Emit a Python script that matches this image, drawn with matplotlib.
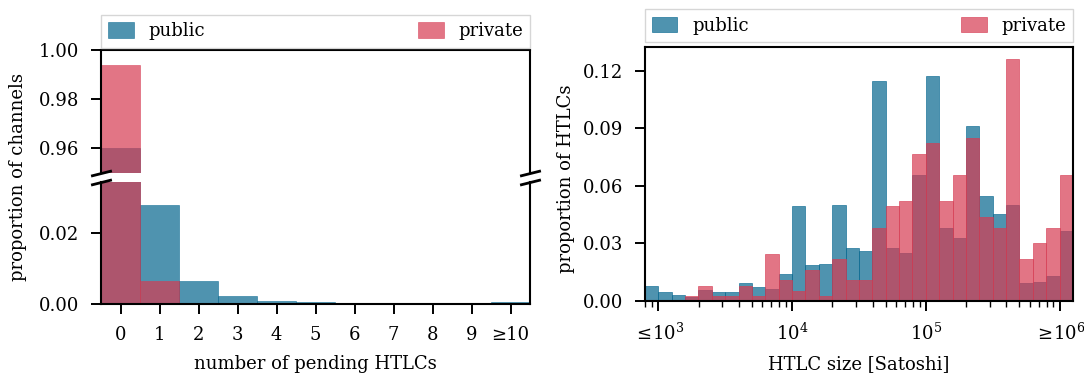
import numpy as np
import matplotlib

matplotlib.use("Agg")

import matplotlib.pyplot as plt

plt.rcParams.update({
    "font.family": "serif",
    "font.serif": ["DejaVu Serif"],
    "mathtext.fontset": "dejavuserif",
    "font.size": 13,
    "axes.linewidth": 1.5,
    "xtick.major.width": 1.4,
    "ytick.major.width": 1.4,
    "xtick.minor.width": 1.0,
    "xtick.major.size": 7.5,
    "ytick.major.size": 7.5,
    "xtick.minor.size": 4,
    "xtick.major.pad": 8,
    "xtick.minor.pad": 8,
    "ytick.major.pad": 8,
    "legend.edgecolor": "0.8",
    "legend.handlelength": 1.4,
    "legend.handleheight": 0.95,
})

PUBLIC = "#05668e"
PRIVATE = "#d63b52"
ALPHA = 0.7

# --- left panel: pending HTLCs per channel ---
pending_labels = ["0", "1", "2", "3", "4", "5", "6", "7", "8", "9", "≥10"]
pending_public = [0.960, 0.0279, 0.0066, 0.0023, 0.0008, 0.0005, 0.0003, 0.0001, 0.0001, 0.0001, 0.0005]
pending_private = [0.994, 0.0064, 0, 0, 0, 0, 0, 0, 0, 0, 0]

# --- right panel: HTLC size histogram, 0.1-decade bins from 10^2.9 to 10^6.1 ---
size_bin_start = 2.9
size_bin_step = 0.1
size_public = [0.0077, 0.0045, 0.0030, 0.0020, 0.0060, 0.0045, 0.0045, 0.0092,
               0.0071, 0.0065, 0.0139, 0.0494, 0.0186, 0.0191, 0.0500, 0.0275,
               0.0260, 0.1146, 0.0274, 0.0250, 0.0656, 0.1173, 0.0380, 0.0327,
               0.0911, 0.0546, 0.0452, 0.0500, 0.0092, 0.0098, 0.0130, 0.0364]
size_private = [0.0, 0.0, 0.0, 0.0025, 0.0077, 0.0024, 0.0024, 0.0077,
                0.0024, 0.0243, 0.0108, 0.0051, 0.0160, 0.0024, 0.0218, 0.0108,
                0.0108, 0.0380, 0.0493, 0.0520, 0.0765, 0.0823, 0.0520, 0.0656,
                0.0850, 0.0437, 0.0380, 0.1260, 0.0218, 0.0301, 0.0380, 0.0656]
size_ticks = [1e3, 1e4, 1e5, 1e6]
size_ticklabels = [r"$\leq\!10^{3}$", r"$10^{4}$", r"$10^{5}$", r"$\geq\!10^{6}$"]

fig = plt.figure(figsize=(10.84, 3.73), dpi=100)
ax_top = fig.add_axes([0.0932, 0.536, 0.3958, 0.330])
ax_bot = fig.add_axes([0.0932, 0.185, 0.3958, 0.327])
ax_r = fig.add_axes([0.595, 0.193, 0.3948, 0.681])

x = np.arange(len(pending_labels))
for ax in (ax_top, ax_bot):
    ax.bar(x, pending_public, width=1, color=PUBLIC, alpha=ALPHA, edgecolor=PUBLIC,
           linewidth=0.5, label="public")
    ax.bar(x, pending_private, width=1, color=PRIVATE, alpha=ALPHA, edgecolor=PRIVATE,
           linewidth=0.5, label="private")
    ax.set_xlim(-0.5, 10.5)

ax_top.set_ylim(0.95, 1.0)
ax_top.set_yticks([0.96, 0.98, 1.00])
ax_top.set_yticklabels(["0.96", "0.98", "1.00"])
ax_bot.set_ylim(0, 0.0345)
ax_bot.set_yticks([0.0, 0.02])
ax_bot.set_yticklabels(["0.00", "0.02"])

ax_top.spines["bottom"].set_visible(False)
ax_bot.spines["top"].set_visible(False)
ax_top.tick_params(axis="x", bottom=False, labelbottom=False)
ax_bot.set_xticks(x)
ax_bot.set_xticklabels(pending_labels)
ax_bot.set_xlabel("number of pending HTLCs", labelpad=8)

# break marks
d = 0.25
kw = dict(marker=[(-1, -d), (1, d)], markersize=15, linestyle="none", color="k",
          mec="k", mew=2, clip_on=False)
ax_top.plot([0, 1], [0, 0], transform=ax_top.transAxes, **kw)
ax_bot.plot([0, 1], [1, 1], transform=ax_bot.transAxes, **kw)

ax_top.legend(bbox_to_anchor=(0, 1.02, 1, 0.2), loc="lower left", mode="expand",
              ncol=2, borderaxespad=0, fancybox=False, framealpha=0.8)
fig.text(0.017, 0.525, "proportion of channels", rotation=90, ha="center", va="center")

# right panel
edges = 10 ** (size_bin_start + size_bin_step * np.arange(len(size_public) + 1))
ax_r.hist(edges[:-1], bins=edges, weights=size_public, color=PUBLIC, alpha=ALPHA,
          edgecolor=PUBLIC, linewidth=0.6, label="public")
ax_r.hist(edges[:-1], bins=edges, weights=size_private, color=PRIVATE, alpha=ALPHA,
          edgecolor=PRIVATE, linewidth=0.6, label="private")
ax_r.set_xscale("log")
ax_r.set_xlim(edges[0], edges[-1])
ax_r.set_ylim(0, 0.1325)
ax_r.set_yticks([0, 0.03, 0.06, 0.09, 0.12])
ax_r.set_yticklabels(["0.00", "0.03", "0.06", "0.09", "0.12"])
ax_r.set_xticks(size_ticks)
ax_r.set_xticklabels(size_ticklabels)
ax_r.set_xlabel("HTLC size [Satoshi]", labelpad=8)
ax_r.legend(bbox_to_anchor=(0, 1.02, 1, 0.2), loc="lower left", mode="expand",
            ncol=2, borderaxespad=0, fancybox=False, framealpha=0.8)
fig.text(0.522, 0.52, "proportion of HTLCs", rotation=90, ha="center", va="center")

fig.savefig("out.png", dpi=100)
